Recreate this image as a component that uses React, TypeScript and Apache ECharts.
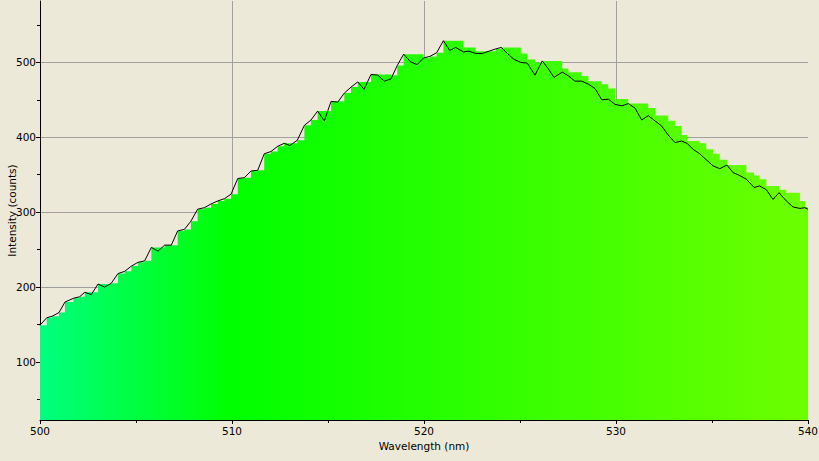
import React, { useEffect, useRef } from "react";
import * as echarts from "echarts";

// Wavelength (nm) of each measured point
const wavelengths = [
  500.0, 500.35, 500.63, 500.99, 501.3, 501.74, 502.06, 502.33, 502.67, 503.02,
  503.37, 503.71, 504.06, 504.41, 504.76, 505.1, 505.45, 505.8, 506.15, 506.49,
  506.84, 507.17, 507.52, 507.86, 508.21, 508.56, 508.91, 509.26, 509.6, 509.95,
  510.3, 510.64, 510.99, 511.34, 511.68, 512.03, 512.38, 512.72, 513.02, 513.4,
  513.77, 514.11, 514.46, 514.81, 515.16, 515.51, 515.85, 516.2, 516.55, 516.88,
  517.24, 517.59, 517.93, 518.28, 518.61, 518.94, 519.29, 519.64, 519.98, 520.31,
  520.66, 521.01, 521.34, 521.65, 522.05, 522.34, 522.69, 523.04, 523.39, 523.73,
  524.03, 524.34, 524.69, 525.04, 525.38, 525.78, 526.16, 526.46, 526.77, 527.2,
  527.52, 527.86, 528.21, 528.56, 528.91, 529.26, 529.6, 529.95, 530.3, 530.64,
  530.99, 531.34, 531.68, 532.03, 532.38, 532.72, 533.07, 533.42, 533.7, 534.01,
  534.36, 534.7, 535.05, 535.4, 535.78, 536.09, 536.44, 536.79, 537.19, 537.48,
  537.83, 538.18, 538.49, 538.87, 539.22, 539.58, 539.84, 540.0,
];

// Measured intensity (counts) — black line
const intensity = [
  149, 159, 161, 166, 180, 185, 187, 193, 190, 204,
  200, 205, 218, 221, 228, 233, 235, 253, 248, 256,
  256, 275, 277, 288, 304, 306, 311, 315, 318, 324,
  345, 346, 355, 356, 378, 381, 388, 392, 389, 396,
  416, 423, 435, 422, 448, 447, 459, 467, 474, 464,
  484, 483, 475, 478, 496, 511, 501, 497, 506, 508,
  513, 529, 516, 520, 514, 515, 512, 512, 515, 518,
  520, 512, 504, 500, 499, 483, 502, 492, 480, 487,
  482, 475, 475, 471, 465, 450, 451, 444, 442, 445,
  439, 423, 429, 422, 415, 403, 393, 395, 392, 384,
  378, 370, 362, 358, 363, 353, 349, 344, 333, 335,
  330, 317, 326, 315, 307, 305, 306, 304,
];

// Held (stepped) intensity shown as the coloured fill
const heldIntensity = [
  149, 159, 161, 166, 180, 185, 187, 193, 193, 204,
  204, 205, 218, 221, 228, 233, 235, 253, 253, 256,
  256, 275, 277, 288, 304, 306, 311, 315, 318, 324,
  345, 346, 355, 356, 378, 381, 388, 392, 392, 396,
  416, 423, 435, 435, 448, 448, 459, 467, 474, 474,
  484, 484, 484, 483, 496, 511, 511, 511, 506, 508,
  513, 529, 529, 529, 520, 520, 515, 515, 515, 518,
  520, 520, 520, 512, 504, 500, 502, 502, 502, 492,
  487, 487, 482, 475, 475, 471, 465, 451, 451, 445,
  445, 445, 439, 429, 429, 422, 415, 403, 395, 395,
  392, 384, 378, 370, 363, 363, 363, 353, 349, 344,
  335, 335, 330, 326, 326, 315, 307, 306,
];

const xMajorTicks = [500, 510, 520, 530, 540];
const xGridValues = [510, 520, 530];
const yMajorTicks = [100, 200, 300, 400, 500];
const yMinorTicks = [50, 150, 250, 350, 450, 550];

export default function App() {
  const ref = useRef<HTMLDivElement>(null);

  useEffect(() => {
    if (!ref.current) return;
    const chart = echarts.init(ref.current, null, { renderer: "svg" });
    const font = '"DejaVu Sans", sans-serif';
    const fontSize = 10.5;
    const black = "#000000";
    const gridColor = "#A0A0A0";

    const lineData = wavelengths.map((w, i) => [w, intensity[i]]);
    const fillData = wavelengths.map((w, i) => [w, heldIntensity[i]]);

    chart.setOption({
      animation: false,
      backgroundColor: "#ECE9D8",
      textStyle: { fontFamily: font },
      grid: {
        left: 40,
        right: 11,
        top: 1,
        bottom: 41,
        containLabel: false,
        outerBoundsMode: "none",
      },
      xAxis: [
        {
          type: "value",
          min: 500,
          max: 540,
          interval: 10,
          name: "Wavelength (nm)",
          nameLocation: "middle",
          nameGap: 20,
          nameMoveOverlap: false,
          nameTextStyle: { color: black, fontFamily: font, fontSize },
          axisLine: { show: true, onZero: false, lineStyle: { color: black, width: 1 } },
          axisTick: { show: true, length: 4, customValues: xMajorTicks, lineStyle: { color: black, width: 1 } },
          minorTick: { show: true, splitNumber: 2, length: 3, lineStyle: { color: black, width: 1 } },
          axisLabel: {
            customValues: xMajorTicks,
            margin: 5,
            color: black,
            fontFamily: font,
            fontSize,
          },
          splitLine: { show: false },
        },
        {
          type: "value",
          min: 500,
          max: 540,
          position: "bottom",
          axisLine: { show: false },
          axisTick: { show: false, customValues: xGridValues },
          axisLabel: { show: false, customValues: xGridValues },
          splitLine: { show: true, lineStyle: { color: gridColor, width: 1 } },
        },
      ],
      yAxis: [
        {
          type: "value",
          min: 22.5,
          max: 582,
          name: "Intensity (counts)",
          nameLocation: "middle",
          nameGap: 23,
          nameRotate: 90,
          nameMoveOverlap: false,
          nameTextStyle: { color: black, fontFamily: font, fontSize },
          axisLine: { show: true, onZero: false, lineStyle: { color: black, width: 1 } },
          axisTick: { show: true, length: 4, customValues: yMajorTicks, lineStyle: { color: black, width: 1 } },
          axisLabel: {
            customValues: yMajorTicks,
            margin: 4,
            color: black,
            fontFamily: font,
            fontSize,
          },
          splitLine: { show: true, lineStyle: { color: gridColor, width: 1 } },
        },
        {
          type: "value",
          min: 22.5,
          max: 582,
          position: "left",
          axisLine: { show: false },
          axisTick: { show: true, length: 3, customValues: yMinorTicks, lineStyle: { color: black, width: 1 } },
          axisLabel: { show: false, customValues: yMinorTicks },
          splitLine: { show: false },
        },
      ],
      series: [
        {
          name: "held",
          type: "line",
          xAxisIndex: 0,
          yAxisIndex: 0,
          data: fillData,
          step: "end",
          symbol: "none",
          silent: true,
          lineStyle: { width: 0, opacity: 0 },
          areaStyle: {
            origin: "start",
            opacity: 1,
            color: new echarts.graphic.LinearGradient(0, 0, 1, 0, [
              { offset: 0, color: "#00FF80" },
              { offset: 0.25, color: "#00FF00" },
              { offset: 1, color: "#6DFF00" },
            ]),
          },
          z: 2,
        },
        {
          name: "intensity",
          type: "line",
          xAxisIndex: 0,
          yAxisIndex: 0,
          data: lineData,
          symbol: "none",
          silent: true,
          lineStyle: { color: black, width: 1 },
          z: 3,
        },
      ],
    });

    return () => {
      chart.dispose();
    };
  }, []);

  return (
    <div
      ref={ref}
      style={{ position: "fixed", left: 0, top: 0, width: 819, height: 461 }}
    />
  );
}
